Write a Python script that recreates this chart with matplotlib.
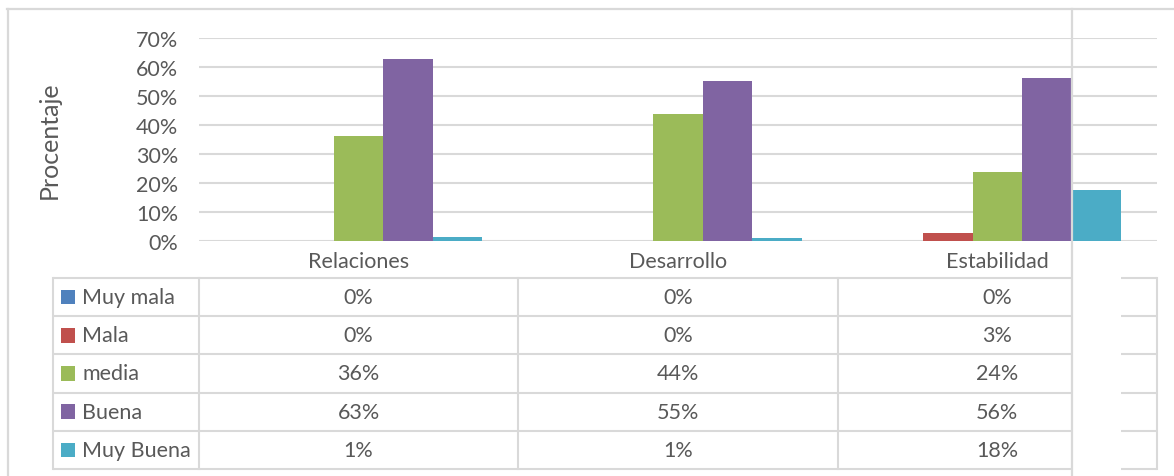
import matplotlib
matplotlib.use("Agg")
import matplotlib.pyplot as plt
from matplotlib.lines import Line2D
from matplotlib.patches import Rectangle
from matplotlib.ticker import PercentFormatter

plt.rcParams['font.family'] = ['Lato', 'DejaVu Sans']

categories = ["Relaciones", "Desarrollo", "Estabilidad"]
series = ["Muy mala", "Mala", "media", "Buena", "Muy Buena"]
muy_mala = [0.0, 0.0, 0.0]
mala = [0.0, 0.0, 2.6]
media = [36.2, 43.8, 23.8]
buena = [62.6, 55.2, 56.2]
muy_buena = [1.3, 1.1, 17.6]
colors = ["#4F81BD", "#C0504D", "#9BBB59", "#8064A2", "#4BACC6"]
yticks = [0, 10, 20, 30, 40, 50, 60, 70]
ylabel = "Procentaje"

values = [muy_mala, mala, media, buena, muy_buena]

W, H = 1174, 477
fig = plt.figure(figsize=(W / 100, H / 100), dpi=100)

def rect(l, t, r, b):
    return [l / W, 1 - b / H, (r - l) / W, (b - t) / H]

TXT = "#595959"
GRID = "#D9D9D9"
FS = 15.5

# plot area
PL, PR, PT, PB = 199, 1157, 39, 242
ax = fig.add_axes(rect(PL, PT, PR, PB))
ax.set_xlim(-0.5, 2.5)
ax.set_ylim(0, 70)
bw = 0.155
for k, (name, vals, c) in enumerate(zip(series, values, colors)):
    xs = [i + (k - 2) * bw for i in range(len(categories))]
    ax.bar(xs, vals, width=bw, color=c, zorder=3, linewidth=0)
ax.set_yticks(yticks)
ax.yaxis.set_major_formatter(PercentFormatter(decimals=0))
ax.set_xticks(range(len(categories)), categories)
ax.yaxis.grid(True, color=GRID, linewidth=1.5, zorder=0)
ax.set_axisbelow(True)
for s in ax.spines.values():
    s.set_visible(False)
ax.tick_params(axis='both', length=0, labelcolor=TXT, labelsize=FS)
ax.tick_params(axis='y', pad=15)
ax.tick_params(axis='x', pad=7)
ax.set_ylabel(ylabel, fontsize=18, color=TXT)
ax.yaxis.set_label_coords((61 - PL) / (PR - PL), 0.5)

# data table
TL, TR, TT, TB = 53, 1157, 279, 470
unit = (PR - PL) / 3.0
tax = fig.add_axes(rect(TL, TT, TR, TB))
x0 = -0.5 - (PL - TL) / unit
tax.set_xlim(x0, 2.5)
tax.set_ylim(len(series), 0)
tax.axis('off')

def px2x(p):
    return -0.5 + (p - PL) / unit

gap_l, gap_r = px2x(1072), px2x(1121)
lw = 1.5
for r in range(len(series) + 1):
    tax.plot([x0, gap_l], [r, r], color=GRID, lw=lw, clip_on=False, solid_capstyle='butt')
    tax.plot([gap_r, 2.5], [r, r], color=GRID, lw=lw, clip_on=False, solid_capstyle='butt')
for xv in [x0, -0.5, 0.5, 1.5, 2.5]:
    tax.plot([xv, xv], [0, len(series)], color=GRID, lw=lw, clip_on=False)

for r, (name, vals, c) in enumerate(zip(series, values, colors)):
    tax.add_patch(Rectangle((px2x(61), r + 0.5 - 0.19), px2x(75) - px2x(61), 0.38,
                            color=c, lw=0))
    tax.text(px2x(82), r + 0.5, name, ha='left', va='center', color=TXT, fontsize=FS)
    for i, v in enumerate(vals):
        tax.text(i, r + 0.5, f"{round(v):d}%", ha='center', va='center',
                 color=TXT, fontsize=FS)

# outer frame pieces
frame = dict(color=GRID, lw=1.6, transform=fig.transFigure)
fig.add_artist(Line2D([7 / W, 1], [1 - 10 / H, 1 - 10 / H], **frame))
fig.add_artist(Line2D([7.5 / W, 7.5 / W], [1 - 10 / H, 0], **frame))
vl = Line2D([1072 / W, 1072 / W], [1 - 10 / H, 0], zorder=0.5, **frame)
fig.add_artist(vl)

fig.savefig("out.png", dpi=100)
